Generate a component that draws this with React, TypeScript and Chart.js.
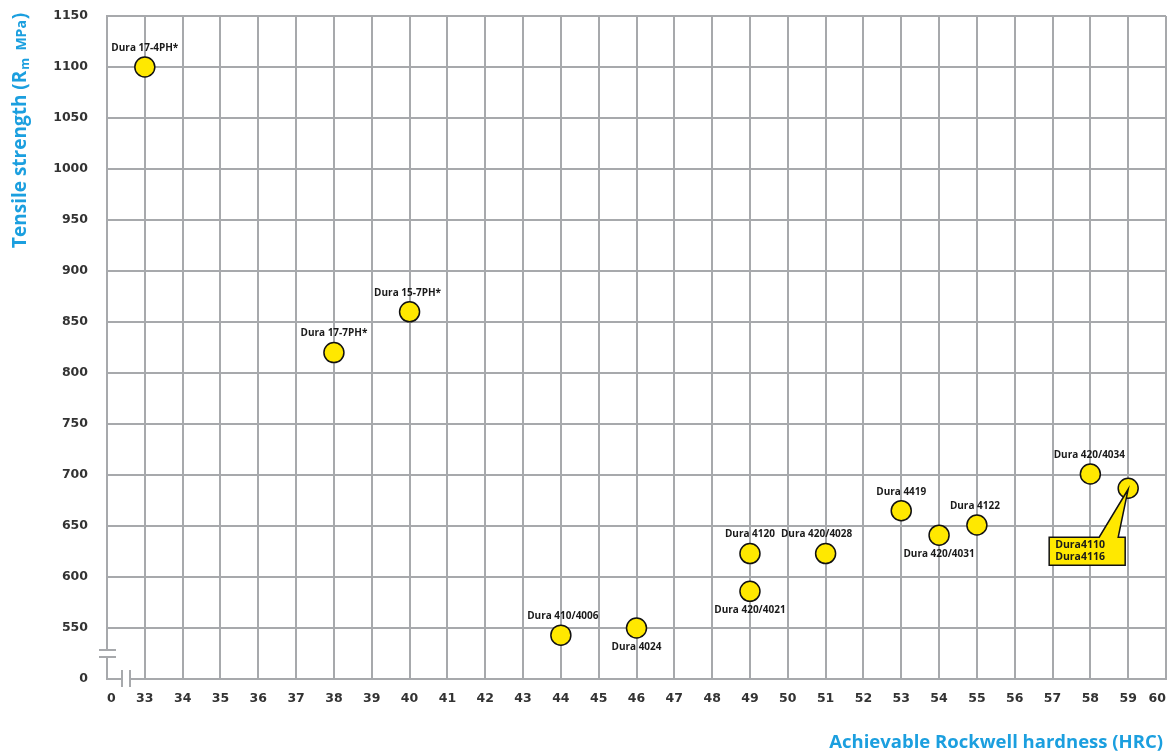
import React, { useEffect, useRef } from 'react';
import { Chart, registerables } from 'chart.js';

Chart.register(...registerables);

// ---------- data ----------
const grades = [
  'Dura 17-4PH*',
  'Dura 17-7PH*',
  'Dura 15-7PH*',
  'Dura 410/4006',
  'Dura 4024',
  'Dura 4120',
  'Dura 420/4021',
  'Dura 420/4028',
  'Dura 4419',
  'Dura 420/4031',
  'Dura 4122',
  'Dura 420/4034',
  'Dura4110\nDura4116',
];
const hardnessHRC = [33, 38, 40, 44, 46, 49, 49, 51, 53, 54, 55, 58, 59];
const tensileMPa = [1100, 820, 860, 543, 550, 623, 586, 623, 665, 641, 651, 701, 687];
const labelSide = ['above', 'above', 'above', 'above', 'below', 'above', 'below', 'above', 'above', 'below', 'above', 'above', 'callout'];
const labelShiftX = [0, 0, -2, 2, 0, 0, 0, -9, 0, 0, -2, -1, 0];

// axis: the first tick of each axis is a truncated origin shown as "0"
const xTickValues = [32, 33, 34, 35, 36, 37, 38, 39, 40, 41, 42, 43, 44, 45, 46, 47, 48, 49, 50, 51, 52, 53, 54, 55, 56, 57, 58, 59, 60];
const xTickLabels = ['0', '33', '34', '35', '36', '37', '38', '39', '40', '41', '42', '43', '44', '45', '46', '47', '48', '49', '50', '51', '52', '53', '54', '55', '56', '57', '58', '59', '60'];
const yTickValues = [500, 550, 600, 650, 700, 750, 800, 850, 900, 950, 1000, 1050, 1100, 1150];
const yTickLabels = ['0', '550', '600', '650', '700', '750', '800', '850', '900', '950', '1000', '1050', '1100', '1150'];

const xTitle = 'Achievable Rockwell hardness (HRC)';
const yTitleMain = 'Tensile strength (R';
const yTitleSub = 'm';
const yTitleUnit = '  MPa';

// ---------- styles ----------
const GRID = '#A7A9AC';
const YELLOW = '#FFE800';
const BLUE = '#1B9FDF';
const TICK = '#333333';
const TRANSPARENT = 'rgba(0,0,0,0)';

const breakPlugin = {
  id: 'axisBreak',
  beforeDatasetsDraw(chart: any) {
    const { ctx, scales } = chart;
    const xs = scales.x;
    const ys = scales.y;
    const left = xs.getPixelForValue(xTickValues[0]);
    const right = xs.getPixelForValue(xTickValues[xTickValues.length - 1]);
    const bottom = ys.getPixelForValue(yTickValues[0]);
    const top = ys.getPixelForValue(yTickValues[yTickValues.length - 1]);
    ctx.save();
    ctx.strokeStyle = GRID;
    ctx.lineWidth = 2;
    ctx.beginPath();
    ctx.moveTo(left, top - 1);
    ctx.lineTo(left, bottom - 29);
    ctx.moveTo(left, bottom - 22);
    ctx.lineTo(left, bottom);
    ctx.lineTo(left + 15, bottom);
    ctx.moveTo(left + 23, bottom);
    ctx.lineTo(right + 1, bottom);
    // break marks
    ctx.moveTo(left - 8, bottom - 29);
    ctx.lineTo(left + 9, bottom - 29);
    ctx.moveTo(left - 8, bottom - 22);
    ctx.lineTo(left + 9, bottom - 22);
    ctx.moveTo(left + 15, bottom - 9);
    ctx.lineTo(left + 15, bottom + 8);
    ctx.moveTo(left + 23, bottom - 9);
    ctx.lineTo(left + 23, bottom + 8);
    ctx.stroke();
    ctx.restore();
  },
};

const labelPlugin = {
  id: 'pointLabels',
  afterDatasetsDraw(chart: any) {
    const ctx = chart.ctx;
    const meta = chart.getDatasetMeta(0);
    ctx.save();
    ctx.font = 'bold 10px "Open Sans"';
    ctx.fillStyle = '#1A1A1A';
    ctx.textAlign = 'center';
    ctx.textBaseline = 'middle';
    meta.data.forEach((pt: any, i: number) => {
      const side = labelSide[i];
      const px = pt.x;
      const py = pt.y;
      if (side === 'callout') {
        const l = px - 79;
        const r = px - 3;
        const t = py + 49;
        const b = py + 77;
        ctx.beginPath();
        ctx.moveTo(l, t);
        ctx.lineTo(px - 29, t);
        ctx.lineTo(px, py + 1);
        ctx.lineTo(px - 10, t);
        ctx.lineTo(r, t);
        ctx.lineTo(r, b);
        ctx.lineTo(l, b);
        ctx.closePath();
        ctx.fillStyle = YELLOW;
        ctx.fill();
        ctx.strokeStyle = '#111';
        ctx.lineWidth = 1.5;
        ctx.stroke();
        ctx.fillStyle = '#1A1A1A';
        ctx.textAlign = 'left';
        ctx.font = 'bold 10.5px "Open Sans"';
        const lines = grades[i].split('\n');
        lines.forEach((line, k) => {
          ctx.fillText(line, l + 6, t + 8 + k * 12);
        });
        ctx.font = 'bold 10px "Open Sans"';
        ctx.textAlign = 'center';
      } else {
        const dy = side === 'above' ? -19 : 19;
        ctx.fillText(grades[i], px + labelShiftX[i], py + dy);
      }
    });
    ctx.restore();
  },
};

const titlePlugin = {
  id: 'axisTitles',
  afterDraw(chart: any) {
    const ctx = chart.ctx;
    ctx.save();
    ctx.fillStyle = BLUE;
    ctx.textBaseline = 'alphabetic';
    // x title
    ctx.font = 'bold 18.5px "Open Sans"';
    ctx.textAlign = 'right';
    ctx.fillText(xTitle, 1163, 748);
    // y title (rotated)
    ctx.translate(26, 248);
    ctx.rotate(-Math.PI / 2);
    ctx.textAlign = 'left';
    ctx.font = 'bold 19px "Open Sans"';
    ctx.fillText(yTitleMain, 0, 0);
    let w = ctx.measureText(yTitleMain).width;
    ctx.font = 'bold 12px "Open Sans"';
    ctx.fillText(yTitleSub, w + 1, 3);
    w += 1 + ctx.measureText(yTitleSub).width;
    ctx.font = 'bold 14px "Open Sans"';
    ctx.fillText(yTitleUnit, w, 0);
    w += ctx.measureText(yTitleUnit).width;
    ctx.font = 'bold 19px "Open Sans"';
    ctx.fillText(')', w + 1, 0);
    ctx.restore();
  },
};

export default function App() {
  const canvasRef = useRef<HTMLCanvasElement | null>(null);

  useEffect(() => {
    document.body.style.margin = '0';
    const canvas = canvasRef.current;
    if (!canvas) return;
    const chart = new Chart(canvas, {
      type: 'scatter',
      data: {
        datasets: [
          {
            label: 'Grades',
            data: hardnessHRC.map((x, i) => ({ x, y: tensileMPa[i] })),
            pointRadius: 10,
            pointHoverRadius: 10,
            pointBackgroundColor: YELLOW,
            pointBorderColor: '#111',
            pointBorderWidth: 1.5,
            clip: false,
          },
        ],
      },
      options: {
        responsive: false,
        animation: false,
        events: [],
        layout: { autoPadding: false, padding: { top: 16, right: 6, left: 0, bottom: 0 } },
        plugins: {
          legend: { display: false },
          tooltip: { enabled: false },
          title: { display: false },
        },
        scales: {
          x: {
            type: 'linear',
            min: xTickValues[0],
            max: xTickValues[xTickValues.length - 1],
            afterBuildTicks: (scale: any) => {
              scale.ticks = xTickValues.map((v) => ({ value: v }));
            },
            afterFit: (scale: any) => {
              scale.height = 72;
              scale.paddingRight = 0;
              scale.paddingLeft = 0;
            },
            ticks: {
              autoSkip: false,
              maxRotation: 0,
              minRotation: 0,
              align: 'inner',
              padding: 12,
              color: TICK,
              font: { family: '"DejaVu Sans"', weight: 'bold', size: 12.5 },
              callback: (v: any) => {
                const idx = xTickValues.indexOf(Number(v));
                return idx >= 0 ? xTickLabels[idx] : '';
              },
            },
            grid: {
              drawTicks: false,
              lineWidth: 2,
              color: (c: any) => (c.tick && c.tick.value === xTickValues[0] ? TRANSPARENT : GRID),
            },
            border: { display: false },
          },
          y: {
            type: 'linear',
            min: yTickValues[0],
            max: yTickValues[yTickValues.length - 1],
            afterBuildTicks: (scale: any) => {
              scale.ticks = yTickValues.map((v) => ({ value: v }));
            },
            afterFit: (scale: any) => {
              scale.width = 107;
              scale.paddingTop = 0;
              scale.paddingBottom = 0;
            },
            ticks: {
              autoSkip: false,
              padding: 19,
              color: TICK,
              font: { family: '"DejaVu Sans"', weight: 'bold', size: 12.5 },
              callback: (v: any) => {
                const idx = yTickValues.indexOf(Number(v));
                return idx >= 0 ? yTickLabels[idx] : '';
              },
            },
            grid: {
              drawTicks: false,
              lineWidth: 2,
              color: (c: any) => (c.tick && c.tick.value === yTickValues[0] ? TRANSPARENT : GRID),
            },
            border: { display: false },
          },
        },
      } as any,
      plugins: [breakPlugin, labelPlugin, titlePlugin],
    });
    return () => chart.destroy();
  }, []);

  return (
    <div style={{ position: 'absolute', left: 0, top: 0, width: 1172, height: 751, background: '#fff' }}>
      <canvas ref={canvasRef} width={1172} height={751} style={{ width: 1172, height: 751, display: 'block' }} />
    </div>
  );
}
